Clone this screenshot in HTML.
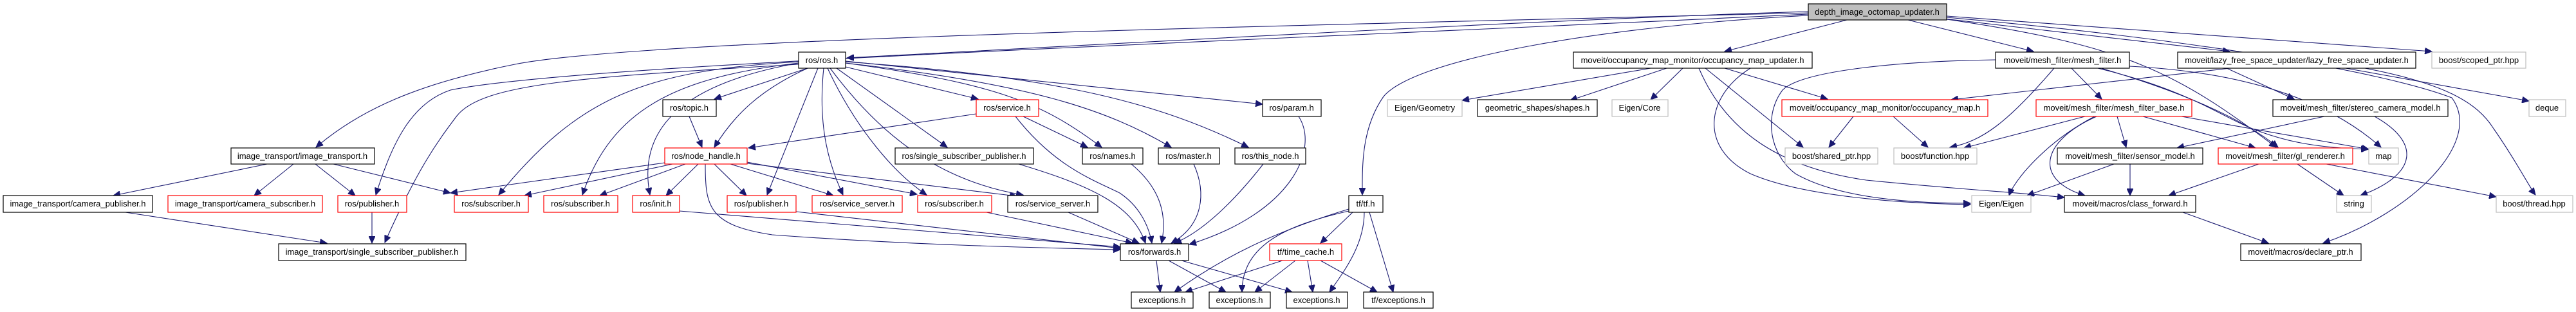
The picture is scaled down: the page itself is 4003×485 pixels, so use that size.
<!DOCTYPE html>
<html><head><meta charset="utf-8"><style>
html,body{margin:0;padding:0;background:#fff;}
svg{display:block;}
text{font-family:"Liberation Sans",sans-serif;font-size:13px;fill:#000;}
.e{fill:none;stroke:#191970;stroke-width:1.1;marker-end:url(#a);}
.n{fill:#fff;stroke:#000;stroke-width:1.2;}
.r{fill:#fff;stroke:#ff0000;stroke-width:1.2;}
.g{fill:#fff;stroke:#bfbfbf;stroke-width:1.2;}
</style></head><body>
<svg width="4003" height="485" viewBox="0 0 4003 485" xmlns="http://www.w3.org/2000/svg">
<defs><marker id="a" markerUnits="userSpaceOnUse" markerWidth="12" markerHeight="10" refX="11" refY="5" orient="auto"><path d="M0,0 L11,5 L0,10 z" fill="#191970" stroke="#191970"/></marker></defs>
<g>
<path class="e" d="M2810,18 C2400,30 1700,70 1316,90"/>
<path class="e" d="M2810,20 C2000,40 1000,60 800,100 C650,130 560,170 491,229"/>
<path class="e" d="M2810,22 C1800,70 900,100 700,140 C640,160 610,220 584,303"/>
<path class="e" d="M2810,24 C2500,40 2200,90 2150,150 C2115,200 2117,260 2117,303"/>
<path class="e" d="M2870,31 L2680,80"/>
<path class="e" d="M2965,31 L3160,80"/>
<path class="e" d="M3020,29 L3465,80"/>
<path class="e" d="M3025,25 L3779,80"/>
<path class="e" d="M3025,27 C3400,60 3700,110 3810,152 C3860,220 3750,330 3610,378"/>
<path class="e" d="M3025,30 C3300,70 3380,110 3537,229"/>
<path class="e" d="M1255,106 L1110,154"/>
<path class="e" d="M1255,106 C1180,140 1140,180 1110,229"/>
<path class="e" d="M1271,106 L1192,303"/>
<path class="e" d="M1280,106 C1270,200 1290,260 1310,303"/>
<path class="e" d="M1241,96 C1000,110 900,150 775,303"/>
<path class="e" d="M1241,98 C1050,120 950,170 905,303"/>
<path class="e" d="M1241,98 C1060,130 990,200 1010,303"/>
<path class="e" d="M1241,100 C900,120 750,130 710,180 C680,220 650,260 598,377"/>
<path class="e" d="M1314,104 L1520,154"/>
<path class="e" d="M1300,106 L1472,229"/>
<path class="e" d="M1314,98 C1550,130 1620,160 1712,229"/>
<path class="e" d="M1314,98 C1600,130 1720,170 1820,229"/>
<path class="e" d="M1314,96 C1650,120 1800,160 1940,229"/>
<path class="e" d="M1314,95 L1962,162"/>
<path class="e" d="M1286,106 C1330,200 1390,270 1440,303"/>
<path class="e" d="M1290,106 C1360,200 1450,280 1590,303"/>
<path class="e" d="M1033,253 L700,300"/>
<path class="e" d="M1045,255 L815,304"/>
<path class="e" d="M1065,255 L932,304"/>
<path class="e" d="M1085,255 L1035,304"/>
<path class="e" d="M1110,255 L1160,304"/>
<path class="e" d="M1135,255 L1295,304"/>
<path class="e" d="M1161,252 L1425,302"/>
<path class="e" d="M1161,254 L1580,305"/>
<path class="e" d="M1096,255 C1096,320 1100,350 1200,365 C1400,380 1600,385 1741,388"/>
<path class="e" d="M1071,181 L1091,229"/>
<path class="e" d="M1517,177 L1163,230"/>
<path class="e" d="M1590,181 L1690,229"/>
<path class="e" d="M1578,181 C1640,260 1700,280 1740,300 C1770,320 1785,350 1790,378"/>
<path class="e" d="M1583,255 C1700,290 1760,320 1780,378"/>
<path class="e" d="M1758,255 C1800,290 1815,330 1805,378"/>
<path class="e" d="M1855,255 C1875,300 1870,350 1820,378"/>
<path class="e" d="M1963,255 C1920,310 1870,360 1825,378"/>
<path class="e" d="M2018,181 C2050,230 2010,330 1848,380"/>
<path class="e" d="M1533,330 L1760,378"/>
<path class="e" d="M1660,330 L1770,378"/>
<path class="e" d="M1056,328 L1741,384"/>
<path class="e" d="M1237,329 L1741,386"/>
<path class="e" d="M415,255 L176,304"/>
<path class="e" d="M456,255 L395,304"/>
<path class="e" d="M490,255 L552,304"/>
<path class="e" d="M518,255 L700,300"/>
<path class="e" d="M578,330 L578,378"/>
<path class="e" d="M195,330 L508,378"/>
<path class="e" d="M1797,405 L1803,454"/>
<path class="e" d="M1816,405 L1905,454"/>
<path class="e" d="M1836,405 L2008,454"/>
<path class="e" d="M2096,325 C1980,360 1900,400 1825,454"/>
<path class="e" d="M2096,328 C2000,350 1930,380 1930,454"/>
<path class="e" d="M2102,330 L2052,378"/>
<path class="e" d="M2120,330 C2120,380 2090,420 2066,454"/>
<path class="e" d="M2128,330 L2165,454"/>
<path class="e" d="M1993,405 L1842,454"/>
<path class="e" d="M2013,405 L1950,454"/>
<path class="e" d="M2032,405 L2040,454"/>
<path class="e" d="M2052,405 L2140,454"/>
<path class="e" d="M2565,106 L2272,156"/>
<path class="e" d="M2590,106 L2440,156"/>
<path class="e" d="M2615,106 L2565,155"/>
<path class="e" d="M2680,106 L2840,154"/>
<path class="e" d="M2650,106 L2802,229"/>
<path class="e" d="M2640,106 C2680,200 2760,260 2900,280 C3050,295 3150,300 3208,307"/>
<path class="e" d="M2720,106 C2650,150 2640,230 2720,270 C2800,305 2950,316 3062,318"/>
<path class="e" d="M2880,181 L2842,229"/>
<path class="e" d="M2942,181 L2996,229"/>
<path class="e" d="M3101,93 C2950,95 2800,110 2770,140 C2740,180 2750,240 2790,270 C2860,310 2980,316 3062,316"/>
<path class="e" d="M3192,106 C3120,190 3080,220 3030,229"/>
<path class="e" d="M3219,106 L3266,154"/>
<path class="e" d="M3265,106 C3380,140 3480,180 3540,229"/>
<path class="e" d="M3309,103 C3450,110 3600,140 3700,229"/>
<path class="e" d="M3260,106 C3400,140 3450,180 3500,200 C3550,220 3600,230 3680,232"/>
<path class="e" d="M3466,106 L3032,155"/>
<path class="e" d="M3645,106 L3930,157"/>
<path class="e" d="M3675,106 C3800,130 3850,160 3875,200 C3910,250 3930,290 3940,303"/>
<path class="e" d="M3460,106 L3565,154"/>
<path class="e" d="M3240,181 L3052,230"/>
<path class="e" d="M3290,181 L3304,229"/>
<path class="e" d="M3255,181 C3180,220 3130,280 3122,304"/>
<path class="e" d="M3258,181 C3170,220 3160,280 3240,304"/>
<path class="e" d="M3330,181 L3505,230"/>
<path class="e" d="M3390,181 L3681,232"/>
<path class="e" d="M3285,255 L3150,304"/>
<path class="e" d="M3310,255 L3310,304"/>
<path class="e" d="M3510,255 L3370,304"/>
<path class="e" d="M3570,255 L3642,304"/>
<path class="e" d="M3615,255 L3879,306"/>
<path class="e" d="M3612,181 L3383,230"/>
<path class="e" d="M3690,181 C3760,220 3760,270 3668,304"/>
<path class="e" d="M3392,330 L3525,378"/>
</g>
<g>
<rect x="2810" y="6" width="215" height="25" fill="#bfbfbf" stroke="#000" stroke-width="1.2"/><text x="2917" y="23" text-anchor="middle">depth_image_octomap_updater.h</text>
<rect class="n" x="1241" y="81" width="73" height="25"/><text x="1277" y="98" text-anchor="middle">ros/ros.h</text>
<rect class="n" x="2445" y="81" width="371" height="25"/><text x="2630" y="98" text-anchor="middle">moveit/occupancy_map_monitor/occupancy_map_updater.h</text>
<rect class="n" x="3101" y="81" width="208" height="25"/><text x="3205" y="98" text-anchor="middle">moveit/mesh_filter/mesh_filter.h</text>
<rect class="n" x="3384" y="81" width="370" height="25"/><text x="3569" y="98" text-anchor="middle">moveit/lazy_free_space_updater/lazy_free_space_updater.h</text>
<rect class="g" x="3779" y="81" width="146" height="25"/><text x="3852" y="98" text-anchor="middle">boost/scoped_ptr.hpp</text>
<rect class="n" x="1030" y="155" width="83" height="26"/><text x="1071" y="172" text-anchor="middle">ros/topic.h</text>
<rect class="r" x="1517" y="155" width="97" height="26"/><text x="1565" y="172" text-anchor="middle">ros/service.h</text>
<rect class="n" x="1962" y="155" width="91" height="26"/><text x="2007" y="172" text-anchor="middle">ros/param.h</text>
<rect class="g" x="2156" y="155" width="116" height="26"/><text x="2214" y="172" text-anchor="middle">Eigen/Geometry</text>
<rect class="n" x="2296" y="155" width="186" height="26"/><text x="2389" y="172" text-anchor="middle">geometric_shapes/shapes.h</text>
<rect class="g" x="2505" y="155" width="87" height="26"/><text x="2548" y="172" text-anchor="middle">Eigen/Core</text>
<rect class="r" x="2769" y="155" width="320" height="26"/><text x="2929" y="172" text-anchor="middle">moveit/occupancy_map_monitor/occupancy_map.h</text>
<rect class="r" x="3164" y="155" width="242" height="26"/><text x="3285" y="172" text-anchor="middle">moveit/mesh_filter/mesh_filter_base.h</text>
<rect class="n" x="3532" y="155" width="272" height="26"/><text x="3668" y="172" text-anchor="middle">moveit/mesh_filter/stereo_camera_model.h</text>
<rect class="g" x="3930" y="155" width="57" height="26"/><text x="3958" y="172" text-anchor="middle">deque</text>
<rect class="n" x="359" y="230" width="223" height="25"/><text x="470" y="247" text-anchor="middle">image_transport/image_transport.h</text>
<rect class="r" x="1033" y="230" width="128" height="25"/><text x="1097" y="247" text-anchor="middle">ros/node_handle.h</text>
<rect class="n" x="1391" y="230" width="215" height="25"/><text x="1498" y="247" text-anchor="middle">ros/single_subscriber_publisher.h</text>
<rect class="n" x="1682" y="230" width="94" height="25"/><text x="1729" y="247" text-anchor="middle">ros/names.h</text>
<rect class="n" x="1800" y="230" width="95" height="25"/><text x="1847" y="247" text-anchor="middle">ros/master.h</text>
<rect class="n" x="1919" y="230" width="110" height="25"/><text x="1974" y="247" text-anchor="middle">ros/this_node.h</text>
<rect class="g" x="2774" y="230" width="144" height="25"/><text x="2846" y="247" text-anchor="middle">boost/shared_ptr.hpp</text>
<rect class="g" x="2943" y="230" width="129" height="25"/><text x="3007" y="247" text-anchor="middle">boost/function.hpp</text>
<rect class="n" x="3197" y="230" width="226" height="25"/><text x="3310" y="247" text-anchor="middle">moveit/mesh_filter/sensor_model.h</text>
<rect class="r" x="3447" y="230" width="209" height="25"/><text x="3551" y="247" text-anchor="middle">moveit/mesh_filter/gl_renderer.h</text>
<rect class="g" x="3681" y="230" width="46" height="25"/><text x="3704" y="247" text-anchor="middle">map</text>
<rect class="n" x="5" y="304" width="232" height="26"/><text x="121" y="321" text-anchor="middle">image_transport/camera_publisher.h</text>
<rect class="r" x="261" y="304" width="240" height="26"/><text x="381" y="321" text-anchor="middle">image_transport/camera_subscriber.h</text>
<rect class="r" x="525" y="304" width="107" height="26"/><text x="578" y="321" text-anchor="middle">ros/publisher.h</text>
<rect class="r" x="706" y="304" width="115" height="26"/><text x="763" y="321" text-anchor="middle">ros/subscriber.h</text>
<rect class="r" x="845" y="304" width="115" height="26"/><text x="902" y="321" text-anchor="middle">ros/subscriber.h</text>
<rect class="r" x="983" y="304" width="73" height="26"/><text x="1019" y="321" text-anchor="middle">ros/init.h</text>
<rect class="r" x="1130" y="304" width="107" height="26"/><text x="1183" y="321" text-anchor="middle">ros/publisher.h</text>
<rect class="r" x="1262" y="304" width="140" height="26"/><text x="1332" y="321" text-anchor="middle">ros/service_server.h</text>
<rect class="r" x="1426" y="304" width="115" height="26"/><text x="1483" y="321" text-anchor="middle">ros/subscriber.h</text>
<rect class="n" x="1566" y="304" width="140" height="26"/><text x="1636" y="321" text-anchor="middle">ros/service_server.h</text>
<rect class="n" x="2096" y="304" width="53" height="26"/><text x="2122" y="321" text-anchor="middle">tf/tf.h</text>
<rect class="g" x="3064" y="304" width="92" height="26"/><text x="3110" y="321" text-anchor="middle">Eigen/Eigen</text>
<rect class="n" x="3208" y="304" width="204" height="26"/><text x="3310" y="321" text-anchor="middle">moveit/macros/class_forward.h</text>
<rect class="g" x="3631" y="304" width="54" height="26"/><text x="3658" y="321" text-anchor="middle">string</text>
<rect class="g" x="3879" y="304" width="119" height="26"/><text x="3938" y="321" text-anchor="middle">boost/thread.hpp</text>
<rect class="n" x="433" y="379" width="291" height="26"/><text x="578" y="396" text-anchor="middle">image_transport/single_subscriber_publisher.h</text>
<rect class="n" x="1741" y="379" width="106" height="26"/><text x="1794" y="396" text-anchor="middle">ros/forwards.h</text>
<rect class="r" x="1973" y="379" width="112" height="26"/><text x="2029" y="396" text-anchor="middle">tf/time_cache.h</text>
<rect class="n" x="3482" y="379" width="187" height="26"/><text x="3575" y="396" text-anchor="middle">moveit/macros/declare_ptr.h</text>
<rect class="n" x="1758" y="454" width="96" height="25"/><text x="1806" y="471" text-anchor="middle">exceptions.h</text>
<rect class="n" x="1879" y="454" width="95" height="25"/><text x="1926" y="471" text-anchor="middle">exceptions.h</text>
<rect class="n" x="1999" y="454" width="95" height="25"/><text x="2046" y="471" text-anchor="middle">exceptions.h</text>
<rect class="n" x="2119" y="454" width="108" height="25"/><text x="2173" y="471" text-anchor="middle">tf/exceptions.h</text>
</g>
</svg>
</body></html>
